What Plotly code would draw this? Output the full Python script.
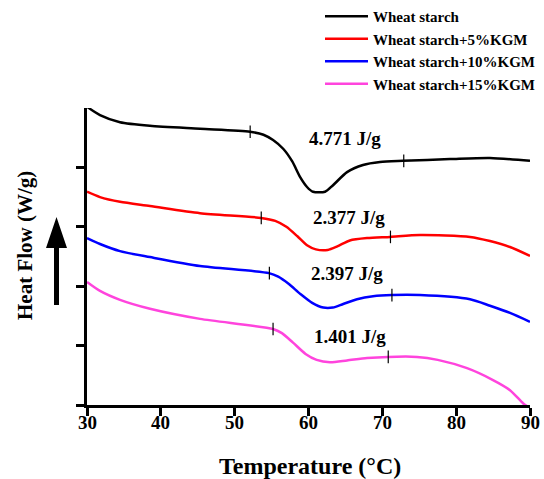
import plotly.graph_objects as go

# ---------------- data ----------------
series_names = ["Wheat starch", "Wheat starch+5%KGM", "Wheat starch+10%KGM", "Wheat starch+15%KGM"]
series_colors = ["#000000", "#FF0000", "#0000FF", "#FF44DD"]

t_black = [30, 31.76, 34.47, 38.53, 45.31, 52.08, 53.9, 55.2, 56.6, 57.8, 58.85, 59.8, 60.61, 62.24, 63.32, 65.22, 67.38, 69.69, 72.8, 79.17, 84.58, 90]
v_black = [5.02, 4.88, 4.76, 4.70, 4.65, 4.60, 4.55, 4.46, 4.31, 4.10, 3.84, 3.67, 3.59, 3.59, 3.70, 3.92, 4.04, 4.09, 4.11, 4.14, 4.16, 4.11]

t_red = [30, 31.76, 34.47, 38.53, 45.31, 53.57, 55.5, 57.0, 58.5, 59.8, 61.0, 62.6, 63.9, 65.6, 67.93, 71.04, 75.1, 81.88, 84.58, 87.29, 90]
v_red = [3.59, 3.50, 3.42, 3.35, 3.23, 3.15, 3.10, 3.00, 2.84, 2.69, 2.62, 2.61, 2.67, 2.77, 2.81, 2.83, 2.86, 2.83, 2.76, 2.66, 2.51]

t_blue = [30, 31.76, 34.47, 38.53, 45.31, 54.65, 55.9, 57.3, 58.9, 60.5, 62.0, 63.3, 64.7, 66.57, 68.74, 71.31, 75.1, 81.88, 84.58, 87.29, 90]
v_blue = [2.81, 2.71, 2.59, 2.49, 2.34, 2.22, 2.16, 2.04, 1.87, 1.72, 1.64, 1.64, 1.70, 1.78, 1.83, 1.85, 1.85, 1.78, 1.67, 1.55, 1.40]

t_pink = [30, 31.76, 34.47, 38.53, 45.31, 55.19, 56.4, 57.9, 59.6, 61.1, 62.9, 65.22, 67.93, 70.77, 74.7, 77.5, 81.47, 84.99, 87.29, 89.05, 89.6]
v_pink = [2.07, 1.92, 1.77, 1.62, 1.45, 1.28, 1.21, 1.05, 0.86, 0.76, 0.72, 0.75, 0.79, 0.81, 0.81, 0.76, 0.62, 0.42, 0.25, 0.03, -0.02]

# onset / end markers (temperature, value) for each curve
mark_t = [[52.1, 72.9], [53.6, 71.1], [54.7, 71.3], [55.2, 70.8]]
mark_v = [[4.60, 4.11], [3.15, 2.83], [2.22, 1.85], [1.28, 0.81]]

# enthalpy labels
enthalpy_text = ["4.771 J/g", "2.377 J/g", "2.397 J/g", "1.401 J/g"]
enthalpy_t = [65.0, 65.5, 65.2, 65.6]
enthalpy_v = [4.49, 3.15, 2.21, 1.16]

x_ticks = [30, 40, 50, 60, 70, 80, 90]
y_ticks = [0, 1, 2, 3, 4]
x_title = "Temperature (°C)"
y_title = "Heat Flow (W/g)"

# ---------------- figure ----------------
W, H = 544, 479
L, R, T, B = 87, 14, 108, 74
FONT = "Liberation Serif"

curves_t = [t_black, t_red, t_blue, t_pink]
curves_v = [v_black, v_red, v_blue, v_pink]

fig = go.Figure()
for i in range(4):
    fig.add_trace(go.Scatter(
        x=curves_t[i], y=curves_v[i], mode="lines", name=f"<b>{series_names[i]}</b>",
        line=dict(color=series_colors[i], width=2.5, shape="spline", smoothing=0.7),
        cliponaxis=False, legendgroup=f"g{i}",
    ))
for i in range(4):
    fig.add_trace(go.Scatter(
        x=mark_t[i], y=mark_v[i], mode="markers", showlegend=False,
        marker=dict(symbol="line-ns", size=9, line=dict(color="#000000", width=1.2)),
        cliponaxis=False,
    ))

for i in range(4):
    fig.add_annotation(x=enthalpy_t[i], y=enthalpy_v[i], text=f"<b>{enthalpy_text[i]}</b>",
                       showarrow=False, font=dict(family=FONT, size=19, color="#000"),
                       xanchor="center", yanchor="middle")

pw, ph = W - L - R, H - T - B
def px2paper(px, py):
    return (px - L) / pw, (H - B - py) / ph

# x tick labels (placed on the data x scale, just under the ticks)
for v in x_ticks:
    fig.add_annotation(x=v, xref="x", y=0, yref="paper", text=f"<b>{v}</b>",
                       showarrow=False, xanchor="center", yanchor="top", yshift=-5,
                       font=dict(family=FONT, size=19, color="#000"))

# axis titles
xt, yt = px2paper(310, 466)
fig.add_annotation(xref="paper", yref="paper", x=xt, y=yt, text=f"<b>{x_title}</b>",
                   showarrow=False, xanchor="center", yanchor="middle",
                   font=dict(family=FONT, size=24, color="#000"))
xt, yt = px2paper(25, 246)
fig.add_annotation(xref="paper", yref="paper", x=xt, y=yt, text=f"<b>{y_title}</b>",
                   textangle=-90, showarrow=False, xanchor="center", yanchor="middle",
                   font=dict(family=FONT, size=21, color="#000"))

# arrow (decoration)
pts = [(56.5, 217), (67, 248), (59, 248), (59, 305), (54, 305), (54, 248), (46, 248)]
path = "M " + " L ".join(f"{px2paper(a, b)[0]},{px2paper(a, b)[1]}" for a, b in pts) + " Z"
fig.add_shape(type="path", xref="paper", yref="paper", path=path,
              fillcolor="#000", line=dict(color="#000", width=0))

fig.update_layout(
    width=W, height=H, margin=dict(l=L, r=R, t=T, b=B, autoexpand=False),
    plot_bgcolor="white", paper_bgcolor="white",
    font=dict(family=FONT, color="#000"),
    legend=dict(x=px2paper(320, 0)[0], y=px2paper(0, 0)[1], xanchor="left", yanchor="top",
                font=dict(family=FONT, size=15, color="#000"), itemwidth=43,
                tracegroupgap=0, bgcolor="rgba(0,0,0,0)"),
    xaxis=dict(range=[30, 90], tickvals=x_ticks, showticklabels=False,
               showline=True, linecolor="#000", linewidth=2.5, ticks="outside", ticklen=8,
               tickwidth=2.5, tickcolor="#000", showgrid=False, zeroline=False, automargin=False),
    yaxis=dict(range=[0, 5], tickvals=y_ticks, showticklabels=False, automargin=False,
               showline=True, linecolor="#000", linewidth=2.5, ticks="outside", ticklen=8,
               tickwidth=2.5, tickcolor="#000", showgrid=False, zeroline=False),
)

fig.write_html("out.html")
